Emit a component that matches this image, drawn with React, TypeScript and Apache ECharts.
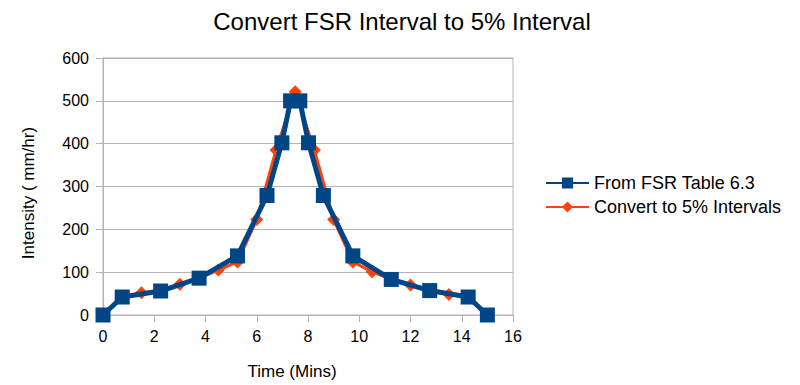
import React, { useEffect, useRef } from "react";
import * as echarts from "echarts";

const fsrTime = [0, 0.75, 2.25, 3.75, 5.25, 6.4, 6.98, 7.32, 7.68, 8.02, 8.6, 9.75, 11.25, 12.75, 14.25, 15];
const fsrIntensity = [0, 42, 56, 86, 138, 279, 402, 500, 500, 402, 279, 138, 83, 57, 42, 0];

const pctTime = [0, 0.75, 1.5, 2.25, 3, 3.75, 4.5, 5.25, 6, 6.75, 7.5, 8.25, 9, 9.75, 10.5, 11.25, 12, 12.75, 13.5, 14.25, 15];
const pctIntensity = [0, 42, 52, 56, 72, 86, 105, 124, 223, 385, 521, 385, 223, 124, 101, 83, 70, 57, 48, 42, 0];

const seriesNames = ["From FSR Table 6.3", "Convert to 5% Intervals"];
const titleText = "Convert FSR Interval to 5% Interval";
const xName = "Time (Mins)";
const yName = "Intensity ( mm/hr)";

export default function App() {
  const ref = useRef<HTMLDivElement>(null);
  useEffect(() => {
    if (!ref.current) return;
    const chart = echarts.init(ref.current, null, { renderer: "svg" });
    const font = "'Liberation Sans', Arial, sans-serif";
    chart.setOption({
      animation: false,
      backgroundColor: "#ffffff",
      textStyle: { fontFamily: font },
      title: {
        text: titleText,
        left: 397,
        textAlign: "center",
        top: 4,
        textStyle: { fontFamily: font, fontSize: 24, fontWeight: "normal", color: "#000" },
      },
      legend: {
        orient: "vertical",
        left: 545,
        top: 174,
        padding: 0,
        itemGap: 6,
        itemWidth: 43,
        itemHeight: 14,
        data: seriesNames,
        textStyle: { fontFamily: font, fontSize: 18, color: "#000" },
      },
      grid: {
        left: 103,
        right: 287,
        top: 58,
        bottom: 70,
        show: true,
        borderColor: "#b3b3b3",
        borderWidth: 1,
      },
      xAxis: {
        type: "value",
        min: 0,
        max: 16,
        interval: 2,
        name: xName,
        nameLocation: "middle",
        nameGap: 48,
        nameTextStyle: { fontFamily: font, fontSize: 17, color: "#000", padding: [0, 32, 0, 0] },
        axisLine: { show: true, lineStyle: { color: "#b3b3b3" } },
        axisTick: { show: true, length: 7, lineStyle: { color: "#b3b3b3" } },
        axisLabel: { fontFamily: font, fontSize: 16, color: "#000", margin: 13 },
        splitLine: { show: false },
      },
      yAxis: {
        type: "value",
        min: 0,
        max: 600,
        interval: 100,
        name: yName,
        nameLocation: "middle",
        nameGap: 66,
        nameTextStyle: { fontFamily: font, fontSize: 17, color: "#000", padding: [0, 13, 0, 0] },
        axisLine: { show: true, lineStyle: { color: "#b3b3b3" } },
        axisTick: { show: true, length: 7, lineStyle: { color: "#b3b3b3" } },
        axisLabel: { fontFamily: font, fontSize: 16, color: "#000", margin: 14 },
        splitLine: { show: true, lineStyle: { color: "#b3b3b3" } },
      },
      series: [
        {
          name: seriesNames[1],
          type: "line",
          data: pctTime.map((t, i) => [t, pctIntensity[i]]),
          symbol: "diamond",
          symbolSize: 13,
          lineStyle: { color: "#ff420e", width: 3 },
          itemStyle: { color: "#ff420e" },
          z: 2,
        },
        {
          name: seriesNames[0],
          type: "line",
          data: fsrTime.map((t, i) => [t, fsrIntensity[i]]),
          symbol: "rect",
          symbolSize: 15,
          lineStyle: { color: "#004586", width: 5 },
          itemStyle: { color: "#004586" },
          z: 3,
        },
      ],
    });
    return () => chart.dispose();
  }, []);
  return (
    <div
      ref={ref}
      style={{ position: "fixed", left: 0, top: 0, width: 800, height: 385 }}
    />
  );
}
